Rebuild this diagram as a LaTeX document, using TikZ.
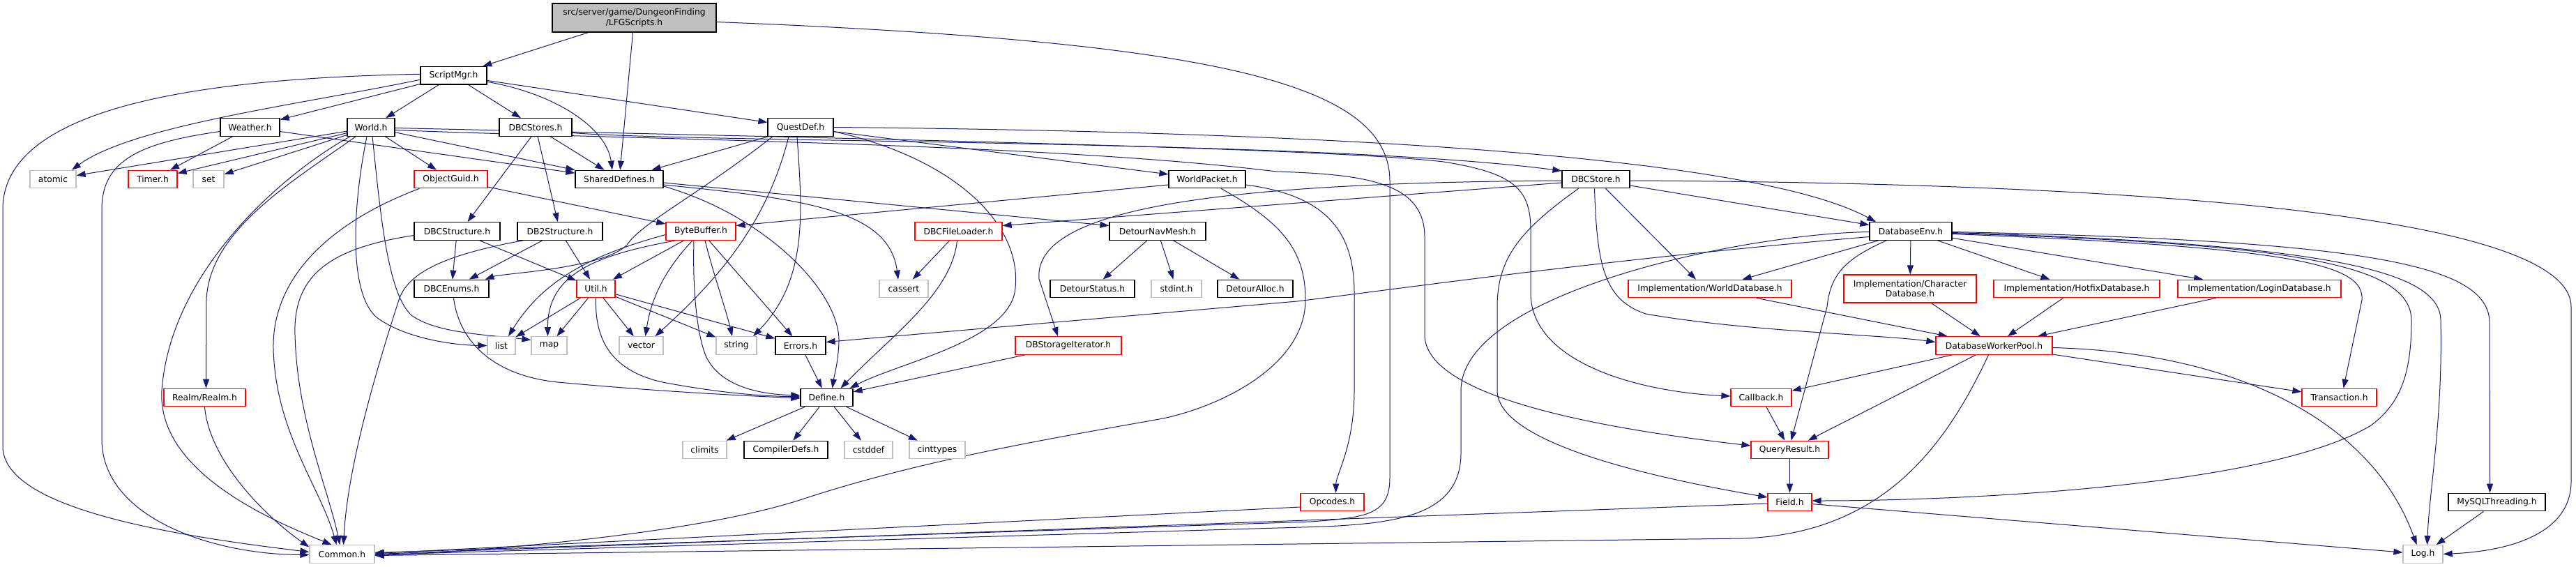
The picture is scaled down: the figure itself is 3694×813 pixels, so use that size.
\documentclass[tikz,border=0pt]{standalone}
\usepackage{fontspec}
\newfontfamily\nfont{DejaVu Sans}
\usetikzlibrary{arrows.meta}
\pgfdeclarelayer{bg}
\pgfsetlayers{bg,main}
\definecolor{navyc}{HTML}{191970}
\definecolor{lgray}{HTML}{BFBFBF}
\definecolor{curfill}{HTML}{BFBFBF}
\definecolor{redc}{HTML}{FF0000}
\tikzset{
 hbox/.style={draw=black, line width=1.2pt, fill=white, minimum height=25.5pt, inner sep=0pt, font=\nfont\fontsize{12.3pt}{14.5pt}\selectfont},
 blkb/.style={hbox},
 redb/.style={hbox, draw=redc},
 grayb/.style={hbox, draw=lgray},
 curb/.style={hbox, fill=curfill, align=center},
 dep/.style={draw=navyc, line width=1pt, -{Triangle[length=13pt,width=9pt]}},
}
\begin{document}
\begin{tikzpicture}[x=1pt,y=-1pt]
\useasboundingbox (0,0) rectangle (3694,813);
% ---------- nodes ----------
\node[curb, minimum width=235pt, minimum height=41pt] (lfg) at (909.5,25.5) {src/server/game/DungeonFinding\\/LFGScripts.h};
\node[blkb, minimum width=95pt] (scriptmgr) at (650.5,108.3) {ScriptMgr.h};
\node[blkb, minimum width=85pt] (weather) at (358.5,182.5) {Weather.h};
\node[blkb, minimum width=68pt] (world) at (532,182.5) {World.h};
\node[blkb, minimum width=104pt] (dbcstores) at (768,182.5) {DBCStores.h};
\node[blkb, minimum width=94pt] (questdef) at (1148,182.5) {QuestDef.h};
\node[grayb, minimum width=66pt] (atomic) at (76,257) {atomic};
\node[redb, minimum width=70pt] (timer) at (219,257) {Timer.h};
\node[grayb, minimum width=44pt] (set) at (299,257) {set};
\node[redb, minimum width=105pt] (objectguid) at (646.5,257) {ObjectGuid.h};
\node[blkb, minimum width=126pt] (shareddefines) at (888,257) {SharedDefines.h};
\node[blkb, minimum width=110pt] (worldpacket) at (1731,257) {WorldPacket.h};
\node[blkb, minimum width=97pt] (dbcstore) at (2288.5,257) {DBCStore.h};
\node[blkb, minimum width=123pt] (dbcstructure) at (655.5,331.5) {DBCStructure.h};
\node[blkb, minimum width=122pt] (db2structure) at (803,331.5) {DB2Structure.h};
\node[redb, minimum width=100pt] (bytebuffer) at (1005,331.5) {ByteBuffer.h};
\node[redb, minimum width=125pt] (dbcfileloader) at (1374.5,331.5) {DBCFileLoader.h};
\node[blkb, minimum width=138pt] (detournavmesh) at (1660,331.5) {DetourNavMesh.h};
\node[blkb, minimum width=118pt] (databaseenv) at (2740,331.5) {DatabaseEnv.h};
\node[blkb, minimum width=107pt] (dbcenums) at (647.5,414) {DBCEnums.h};
\node[redb, minimum width=55pt] (util) at (854.5,414) {Util.h};
\node[grayb, minimum width=70pt] (cassert) at (1296,414) {cassert};
\node[blkb, minimum width=121pt] (detourstatus) at (1566.5,414) {DetourStatus.h};
\node[grayb, minimum width=72pt] (stdint) at (1687,414) {stdint.h};
\node[blkb, minimum width=108pt] (detouralloc) at (1800,414) {DetourAlloc.h};
\node[redb, minimum width=234pt] (implworld) at (2452,414) {Implementation/WorldDatabase.h};
\node[redb, minimum width=190pt, minimum height=40pt, align=center] (implchar) at (2739,414) {Implementation/Character\\Database.h};
\node[redb, minimum width=238pt] (implhotfix) at (2978,414) {Implementation/HotfixDatabase.h};
\node[redb, minimum width=234pt] (impllogin) at (3240,414) {Implementation/LoginDatabase.h};
\node[grayb, minimum width=40pt] (list) at (719,495.5) {list};
\node[grayb, minimum width=51pt] (map) at (787.5,495.5) {map};
\node[grayb, minimum width=63pt] (vector) at (919.5,495.5) {vector};
\node[grayb, minimum width=58pt] (string) at (1056,495.5) {string};
\node[blkb, minimum width=72pt] (errors) at (1148,495.5) {Errors.h};
\node[redb, minimum width=152pt] (dbstorageiter) at (1532,495.5) {DBStorageIterator.h};
\node[redb, minimum width=167pt] (dbworkerpool) at (2859.5,495.5) {DatabaseWorkerPool.h};
\node[redb, minimum width=117pt] (realm) at (293.5,570) {Realm/Realm.h};
\node[blkb, minimum width=75pt] (define) at (1185.5,570) {Define.h};
\node[redb, minimum width=87pt] (callback) at (2525.5,570) {Callback.h};
\node[redb, minimum width=107pt] (transaction) at (3354.5,570) {Transaction.h};
\node[grayb, minimum width=63pt] (climits) at (1010.5,645) {climits};
\node[blkb, minimum width=120pt] (compilerdefs) at (1127,645) {CompilerDefs.h};
\node[grayb, minimum width=69pt] (cstddef) at (1245.5,645) {cstddef};
\node[grayb, minimum width=80pt] (cinttypes) at (1344,645) {cinttypes};
\node[redb, minimum width=111pt] (queryresult) at (2566.5,645) {QueryResult.h};
\node[redb, minimum width=91pt] (opcodes) at (1910.5,720) {Opcodes.h};
\node[redb, minimum width=63pt] (field) at (2566.5,720) {Field.h};
\node[blkb, minimum width=139pt] (mysqlthreading) at (3580.5,720) {MySQLThreading.h};
\node[grayb, minimum width=93pt] (common) at (490.5,794.5) {Common.h};
\node[grayb, minimum width=57pt] (log) at (3474.5,794.5) {Log.h};
% ---------- edges ----------
\begin{pgfonlayer}{bg}
\fill[white] (0,0) rectangle (3694,813);
% LFGScripts
\draw[dep] (lfg) -- (scriptmgr);
\draw[dep] (lfg) -- (shareddefines);
\draw[dep] ([yshift=-6pt]lfg.east) .. controls (1750,60) and (1993,120) .. (1993,260) -- (1993,685) .. controls (1993,738) and (1960,742) .. (1880,748) -- ([yshift=2pt]common.east);
% ScriptMgr
\draw[dep] (scriptmgr) -- (weather);
\draw[dep] (scriptmgr) -- (world);
\draw[dep] (scriptmgr) -- (dbcstores);
\draw[dep] (scriptmgr) -- (questdef);
\draw[dep] ([yshift=-9pt]scriptmgr.east) .. controls (800,135) and (870,185) .. ([xshift=-10pt]shareddefines.north);
\draw[dep] ([yshift=-6pt]scriptmgr.west) .. controls (430,150) and (190,180) .. ([xshift=27pt]atomic.north);
\draw[dep] ([yshift=2pt]scriptmgr.west) .. controls (300,112) and (4,150) .. (4,300) -- (4,640) .. controls (4,730) and (250,768) .. ([yshift=3pt]common.west);
% Weather
\draw[dep] (weather) -- (timer);
\draw[dep] (weather) -- (shareddefines);
\draw[dep] ([yshift=-6pt]weather.west) .. controls (200,205) and (146,230) .. (146,300) -- (146,630) .. controls (146,740) and (300,795) .. ([yshift=-1pt]common.west);
% World
\draw[dep] (world) -- (atomic);
\draw[dep] (world) -- (timer);
\draw[dep] (world) -- (set);
\draw[dep] (world) -- (objectguid);
\draw[dep] (world) -- (shareddefines);
\draw[dep] ([xshift=-30pt]world.south) .. controls (420,240) and (245,380) .. (232,560) .. controls (225,680) and (400,750) .. ([xshift=-15pt]common.north);
\draw[dep] ([xshift=-22pt]world.south) .. controls (420,260) and (300,330) .. (296,430) -- ([xshift=2pt]realm.north);
\draw[dep] ([xshift=-6pt]world.south) .. controls (505,300) and (500,420) .. (540,455) .. controls (580,485) and (650,495) .. (list.west);
\draw[dep] ([xshift=2pt]world.south) .. controls (545,300) and (555,420) .. (590,452) .. controls (625,478) and (700,480) .. ([yshift=8pt]map.west);
\draw[dep] ([yshift=-4pt]world.east) .. controls (900,200) and (1500,205) .. (1830,246) .. controls (1960,250) and (2043,262) .. (2043,340) -- (2043,480) .. controls (2043,570) and (2300,615) .. ([yshift=6pt]queryresult.west);
\draw[dep] ([yshift=-1pt]world.east) .. controls (1200,198) and (1900,212) .. (2070,232) .. controls (2170,248) and (2195,270) .. (2195,330) -- (2195,420) .. controls (2195,520) and (2350,562) .. ([yshift=2pt]callback.west);
% DBCStores
\draw[dep] ([xshift=-6pt]dbcstores.south) -- ([xshift=15pt]dbcstructure.north);
\draw[dep] (dbcstores) -- (db2structure);
\draw[dep] (dbcstores) -- (shareddefines);
\draw[dep] ([yshift=-8pt]dbcstores.east) .. controls (1000,205) and (1900,200) .. ([yshift=12pt]dbcstore.west);
% QuestDef
\draw[dep] (questdef) -- (shareddefines);
\draw[dep] ([xshift=-40pt]questdef.south) .. controls (1000,280) and (920,320) .. (900,350) .. controls (870,385) and (720,392) .. ([xshift=48pt]dbcenums.north);
\draw[dep] ([xshift=-17pt]questdef.south) .. controls (1100,320) and (1030,400) .. ([xshift=20pt]vector.north);
\draw[dep] ([xshift=-5pt]questdef.south) .. controls (1150,300) and (1160,400) .. ([xshift=24pt]string.north);
\draw[dep] ([yshift=-6pt]questdef.east) .. controls (1380,230) and (1470,330) .. (1455,420) .. controls (1440,490) and (1290,520) .. ([xshift=33pt]define.north);
\draw[dep] (questdef.east) .. controls (1800,188) and (2500,215) .. ([xshift=-50pt]databaseenv.north);
\draw[dep] (questdef) -- (worldpacket);
% SharedDefines
\draw[dep] ([yshift=-5pt]shareddefines.east) -- ([yshift=8pt]detournavmesh.west);
\draw[dep] ([yshift=-8pt]shareddefines.east) .. controls (1150,285) and (1275,300) .. ([xshift=-8pt]cassert.north);
\draw[dep] ([yshift=-10pt]shareddefines.east) .. controls (1100,310) and (1205,420) .. (1203,490) .. controls (1202,520) and (1196,540) .. ([xshift=8pt]define.north);
% WorldPacket
\draw[dep] ([yshift=-8pt]worldpacket.west) -- ([yshift=8pt]bytebuffer.east);
\draw[dep] ([yshift=-8pt]worldpacket.east) .. controls (1900,280) and (1942,330) .. (1942,420) -- (1942,560) .. controls (1942,640) and (1916,680) .. ([xshift=5pt]opcodes.north);
\draw[dep] ([xshift=20pt]worldpacket.south) .. controls (1840,320) and (1872,360) .. (1872,430) .. controls (1872,520) and (1760,580) .. (1668,600) .. controls (1500,630) and (1320,660) .. (1150,716) .. controls (1000,765) and (700,790) .. ([yshift=-2pt]common.east);
% DBCStore
\draw[dep] ([yshift=-5pt]dbcstore.west) -- ([yshift=8pt]dbcfileloader.east);
\draw[dep] ([yshift=-2pt]dbcstore.west) .. controls (1800,262) and (1480,290) .. (1490,400) -- ([xshift=-15pt]dbstorageiter.north);
\draw[dep] ([yshift=-2pt]dbcstore.east) .. controls (3000,262) and (3687,300) .. (3687,440) -- (3687,690) .. controls (3687,765) and (3600,790) .. (log.east);
\draw[dep] ([yshift=-9pt]dbcstore.east) -- ([yshift=9pt]databaseenv.west);
\draw[dep] ([xshift=14pt]dbcstore.south) -- ([xshift=-20pt]implworld.north);
\draw[dep] ([xshift=-2pt]dbcstore.south) .. controls (2290,380) and (2300,430) .. (2360,450) .. controls (2500,475) and (2700,480) .. ([yshift=5pt]dbworkerpool.west);
\draw[dep] ([xshift=-25pt]dbcstore.south) .. controls (2180,330) and (2147,370) .. (2147,440) -- (2147,560) .. controls (2147,640) and (2400,690) .. ([yshift=7pt]field.west);
% DatabaseEnv
\draw[dep] ([yshift=-8pt]databaseenv.west) .. controls (2300,372) and (2000,415) .. (1860,432) -- ([yshift=5pt]errors.east);
\draw[dep] ([yshift=-1pt]databaseenv.west) .. controls (2500,335) and (2095,420) .. (2095,560) -- (2095,650) .. controls (2095,740) and (2000,750) .. (1900,755) -- ([yshift=-1pt]common.east);
\draw[dep] (databaseenv) -- (implworld);
\draw[dep] (databaseenv) -- (implchar);
\draw[dep] (databaseenv) -- (implhotfix);
\draw[dep] (databaseenv) -- (impllogin);
\draw[dep] ([xshift=-35pt]databaseenv.south) .. controls (2650,370) and (2625,390) .. (2620,440) -- ([xshift=2pt]queryresult.north);
\draw[dep] ([yshift=-4pt]databaseenv.east) .. controls (3300,355) and (3390,380) .. (3387,430) -- ([xshift=6pt]transaction.north);
\draw[dep] ([yshift=-3pt]databaseenv.east) .. controls (3300,350) and (3458,380) .. (3458,460) .. controls (3458,540) and (3440,580) .. (3400,610) .. controls (3250,700) and (2800,718) .. ([yshift=2pt]field.east);
\draw[dep] ([yshift=-2pt]databaseenv.east) .. controls (3350,350) and (3500,390) .. (3500,460) .. controls (3503,600) and (3484,700) .. ([xshift=6pt]log.north);
\draw[dep] ([yshift=-1pt]databaseenv.east) .. controls (3400,345) and (3565,380) .. (3570,460) -- ([xshift=-10pt]mysqlthreading.north);
% DatabaseWorkerPool
\draw[dep] (dbworkerpool) -- (callback);
\draw[dep] (dbworkerpool) -- (queryresult);
\draw[dep] ([xshift=-8pt]dbworkerpool.south) .. controls (2790,640) and (2700,765) .. (2500,772) -- ([yshift=-2pt]common.east);
\draw[dep] (dbworkerpool) -- (transaction);
\draw[dep] ([yshift=-3pt]dbworkerpool.east) .. controls (3200,505) and (3400,600) .. ([xshift=-9pt]log.north);
% Implementation headers
\draw[dep] (implworld) -- (dbworkerpool);
\draw[dep] (implchar) -- (dbworkerpool);
\draw[dep] (implhotfix) -- (dbworkerpool);
\draw[dep] (impllogin) -- (dbworkerpool);
% bottom database part
\draw[dep] (callback) -- (queryresult);
\draw[dep] (queryresult) -- (field);
\draw[dep] (field) -- (log);
\draw[dep] ([yshift=-2pt]field.west) -- ([yshift=0pt]common.east);
\draw[dep] (mysqlthreading) -- (log);
\draw[dep] ([yshift=-7pt]opcodes.west) -- ([yshift=1pt]common.east);
% ObjectGuid
\draw[dep] (objectguid) -- (bytebuffer);
\draw[dep] ([xshift=-45pt]objectguid.south) .. controls (470,320) and (390,400) .. (392,500) .. controls (395,620) and (460,700) .. ([xshift=-8pt]common.north);
% DBCStructure
\draw[dep] (dbcstructure) -- (dbcenums);
\draw[dep] (dbcstructure) -- (util);
\draw[dep] ([yshift=-6pt]dbcstructure.west) .. controls (480,355) and (420,390) .. (423,480) .. controls (426,600) and (470,700) .. ([xshift=-3pt]common.north);
% DB2Structure
\draw[dep] (db2structure) -- (dbcenums);
\draw[dep] (db2structure) -- (util);
\draw[dep] ([xshift=-53pt]db2structure.south) .. controls (640,365) and (585,390) .. (572,430) .. controls (530,560) and (498,680) .. ([xshift=2pt]common.north);
% ByteBuffer
\draw[dep] ([yshift=-5pt]bytebuffer.west) .. controls (850,365) and (780,400) .. ([xshift=10pt]list.north);
\draw[dep] ([xshift=-36pt]bytebuffer.south) .. controls (860,365) and (785,390) .. ([xshift=-2pt]map.north);
\draw[dep] (bytebuffer) -- (util);
\draw[dep] ([xshift=-12pt]bytebuffer.south) .. controls (960,380) and (935,420) .. ([xshift=6pt]vector.north);
\draw[dep] ([xshift=-10pt]bytebuffer.south) .. controls (993,420) and (1000,480) .. (1012,510) .. controls (1030,550) and (1080,565) .. ([yshift=3pt]define.west);
\draw[dep] ([xshift=6pt]bytebuffer.south) .. controls (1025,400) and (1040,440) .. ([xshift=-6pt]string.north);
\draw[dep] (bytebuffer) -- (errors);
% Util
\draw[dep] (util) -- (list);
\draw[dep] (util) -- (map);
\draw[dep] (util) -- (vector);
\draw[dep] (util) -- (string);
\draw[dep] (util) -- (errors);
\draw[dep] (util.south) .. controls (853,480) and (870,530) .. (950,548) .. controls (1040,565) and (1100,568) .. ([yshift=1pt]define.west);
% DBCEnums
\draw[dep] ([xshift=3pt]dbcenums.south) .. controls (660,500) and (720,540) .. (800,548) .. controls (950,562) and (1080,568) .. ([yshift=-1pt]define.west);
% others
\draw[dep] (errors) -- (define);
\draw[dep] (dbcfileloader) -- (cassert);
\draw[dep] ([xshift=-2pt]dbcfileloader.south) .. controls (1365,420) and (1280,480) .. ([xshift=20pt]define.north);
\draw[dep] (dbstorageiter) -- (define);
\draw[dep] (detournavmesh) -- (detourstatus);
\draw[dep] (detournavmesh) -- (stdint);
\draw[dep] (detournavmesh) -- (detouralloc);
\draw[dep] (define) -- (climits);
\draw[dep] (define) -- (compilerdefs);
\draw[dep] (define) -- (cstddef);
\draw[dep] (define) -- (cinttypes);
\draw[dep] (realm.south) .. controls (300,660) and (380,740) .. ([yshift=10pt]common.west);
\end{pgfonlayer}
\end{tikzpicture}
\end{document}
